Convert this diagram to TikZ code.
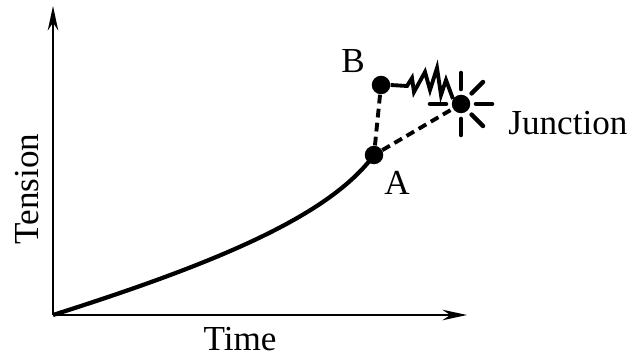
\documentclass[tikz,border=0pt]{standalone}
\usepackage{fontspec}
\setmainfont{Liberation Serif}
\usetikzlibrary{arrows.meta, positioning, calc}
\tikzset{
    axisline/.style={
        -{Stealth[length=14pt, width=6pt]}, line width=1.2pt
    },
    tensioncurve/.style={
        line width=2.4pt
    },
    eventdot/.style={
        circle, fill=black, inner sep=0pt, minimum size=0.37cm
    },
    linkdash/.style={
        line width=2.2pt, dash pattern=on 5pt off 3pt
    },
    sparkray/.style={
        line width=2.6pt, line cap=round
    },
    zigline/.style={
        line width=2.2pt, line join=miter
    },
    lab/.style={
        font=\fontsize{20}{24}\selectfont, inner sep=0pt, anchor=base
    },
}

\begin{document}
\begin{tikzpicture}[x=0.02cm, y=-0.02cm]
    \useasboundingbox (0,0) rectangle (631,357);

    % ── Axes ──
    \coordinate (origin) at (53,315);
    \coordinate (ytip) at (53,6);
    \coordinate (xtip) at (467,315);
    \draw[axisline] (origin) -- (ytip);
    \draw[axisline] (origin) -- (xtip);
    \node[lab, rotate=90, anchor=base] (tension) at (38,189) {Tension};
    \node[lab] (time) at (240,350) {Time};

    % ── Events ──
    \node[eventdot] (A) at (374,155) {};
    \node[eventdot] (B) at (381,85) {};
    \node[eventdot] (J) at (461,104) {};
    \node[lab] (alab) at (397,195) {A};
    \node[lab] (blab) at (353,73) {B};
    \node[lab, anchor=base west] (jlab) at (508,135) {Junction};

    % ── Tension curve ──
    \draw[tensioncurve] (origin) .. controls (220,262) and (330,215) .. (A.center);

    % ── Links ──
    \draw[linkdash] (A) -- (B);
    \draw[linkdash] (A) -- (J);
    \draw[zigline] (B.east) -- (407,86) -- (412,78) -- (414,92) -- (425,72)
        -- (430,90) -- (437,68) -- (441,95) -- (446,80) -- (453,99);

    % ── Spark ──
    \foreach \ang in {90,45,0,-45,-90,180} {
        \draw[sparkray] ($(J.center)+(\ang:15)$) -- ($(J.center)+(\ang:31)$);
    }

\end{tikzpicture}
\end{document}
